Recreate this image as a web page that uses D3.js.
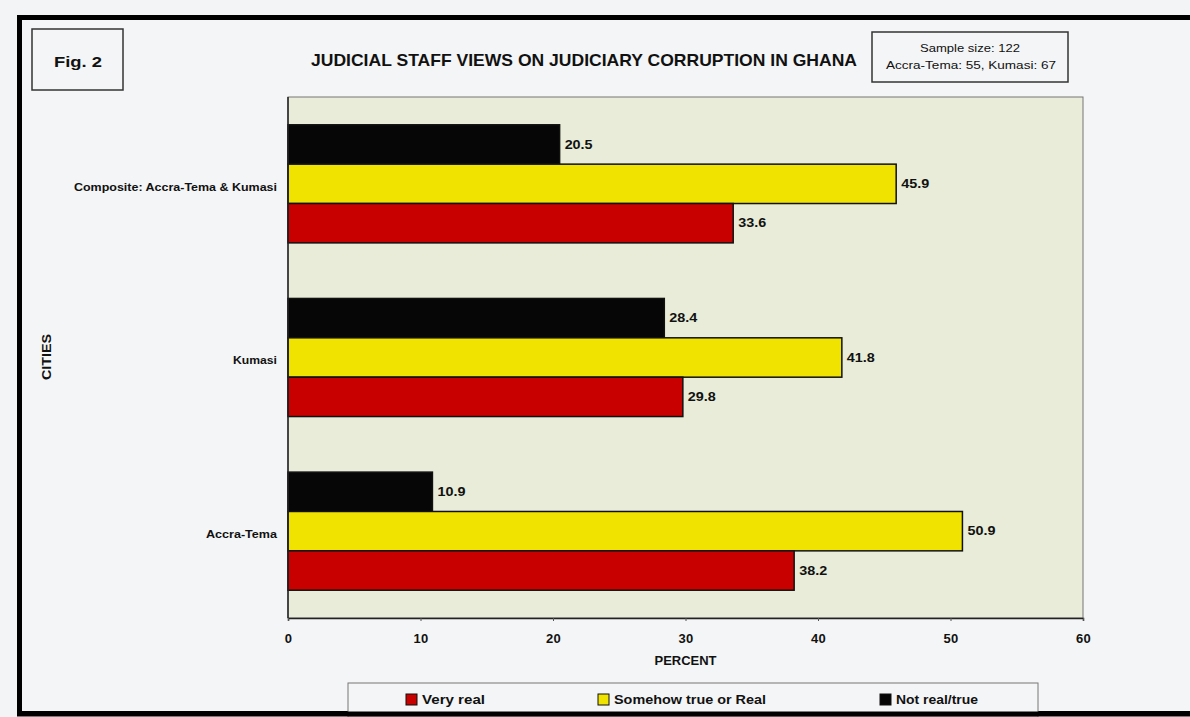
<!DOCTYPE html>
<html>
<head>
<meta charset="utf-8">
<script src="https://cdn.jsdelivr.net/npm/d3@7/dist/d3.min.js"></script>
<style>
  html, body { margin: 0; padding: 0; background: #f3f4f5; }
  svg { display: block; }
  text { font-family: "Liberation Sans", Arial, sans-serif; fill: #111; }
</style>
</head>
<body>
<svg id="chart" width="1190" height="717"></svg>
<script>
// Categories, top to bottom
const cities = ["Composite: Accra-Tema & Kumasi", "Kumasi", "Accra-Tema"];
// Series (drawn top to bottom within each city group)
const seriesNames = ["Not real/true", "Somehow true or Real", "Very real"];
const notRealTrue   = [20.5, 28.4, 10.9];
const somehowTrue   = [45.9, 41.8, 50.9];
const veryReal      = [33.6, 29.8, 38.2];
const seriesColors  = ["#060606", "#f1e300", "#c90000"];
// Axis ticks
const xTicks = [0, 10, 20, 30, 40, 50, 60];
// Legend order
const legendOrder = ["Very real", "Somehow true or Real", "Not real/true"];

const seriesValues = [notRealTrue, somehowTrue, veryReal];

// Rendered widths of the wider labels
const cityLabelWidth = { "Composite: Accra-Tema & Kumasi": 203, "Kumasi": 44, "Accra-Tema": 71 };
const legendLabelWidth = { "Very real": 63, "Somehow true or Real": 152, "Not real/true": 82 };

const svg = d3.select("#chart");

// Outer frame
svg.append("rect")
  .attr("x", 19.5).attr("y", 17.5)
  .attr("width", 1200).attr("height", 696)
  .attr("fill", "#f4f5f6")
  .attr("stroke", "#000").attr("stroke-width", 5);

const plot = { left: 288, right: 1083, top: 97, bottom: 618 };

// Plot background
svg.append("rect")
  .attr("x", plot.left).attr("y", plot.top)
  .attr("width", plot.right - plot.left).attr("height", plot.bottom - plot.top)
  .attr("fill", "#e8ecd8")
  .attr("stroke", "#777").attr("stroke-width", 1);

const x = d3.scaleLinear().domain([0, 60]).range([plot.left, plot.right]);
const y = d3.scaleBand().domain(cities)
  .range([plot.top, plot.bottom])
  .paddingInner(0.32).paddingOuter(0.16);
const ySub = d3.scaleBand().domain(seriesNames).range([0, y.bandwidth()]);

// Bars and value labels
seriesNames.forEach((name, si) => {
  const rows = cities.map((c, i) => ({ city: c, value: seriesValues[si][i] }));
  const g = svg.append("g");
  g.selectAll("rect")
    .data(rows)
    .join("rect")
    .attr("x", x(0))
    .attr("y", d => y(d.city) + ySub(name))
    .attr("width", d => x(d.value) - x(0))
    .attr("height", ySub.bandwidth())
    .attr("fill", seriesColors[si])
    .attr("stroke", "#111").attr("stroke-width", 1.5);
  g.selectAll("text")
    .data(rows)
    .join("text")
    .attr("x", d => x(d.value) + 5)
    .attr("y", d => y(d.city) + ySub(name) + ySub.bandwidth() / 2)
    .attr("dy", "0.35em")
    .attr("font-size", 12)
    .attr("font-weight", "bold")
    .attr("textLength", 28)
    .attr("lengthAdjust", "spacingAndGlyphs")
    .text(d => d.value.toFixed(1));
});

// Left axis line
svg.append("line")
  .attr("x1", plot.left).attr("x2", plot.left)
  .attr("y1", plot.top).attr("y2", plot.bottom)
  .attr("stroke", "#222").attr("stroke-width", 1.5);

// Category labels
svg.append("g").selectAll("text")
  .data(cities).join("text")
  .attr("x", 277)
  .attr("y", d => y(d) + y.bandwidth() / 2 + 3)
  .attr("dy", "0.35em")
  .attr("text-anchor", "end")
  .attr("font-size", 11)
  .attr("font-weight", "bold")
  .attr("textLength", d => cityLabelWidth[d])
  .attr("lengthAdjust", "spacingAndGlyphs")
  .text(d => d);

// Bottom axis
const xAxis = d3.axisBottom(x).tickValues(xTicks).tickSize(3).tickPadding(13);
const ax = svg.append("g")
  .attr("transform", `translate(0,${plot.bottom})`)
  .call(xAxis);
ax.select(".domain").attr("stroke", "#222").attr("stroke-width", 1.5);
ax.selectAll(".tick line").attr("stroke", "#555");
ax.selectAll(".tick text")
  .attr("font-size", 13)
  .attr("font-weight", "bold")
  .attr("letter-spacing", 0.3)
  .attr("fill", "#111")
  .style("font-family", "'Liberation Sans', Arial, sans-serif");

// Axis titles
svg.append("text")
  .attr("x", (plot.left + plot.right) / 2)
  .attr("y", 665)
  .attr("text-anchor", "middle")
  .attr("font-size", 12)
  .attr("font-weight", "bold")
  .attr("textLength", 62)
  .attr("lengthAdjust", "spacingAndGlyphs")
  .text("PERCENT");

svg.append("text")
  .attr("transform", "translate(51,357) rotate(-90)")
  .attr("text-anchor", "middle")
  .attr("font-size", 12)
  .attr("font-weight", "bold")
  .attr("textLength", 46)
  .attr("lengthAdjust", "spacingAndGlyphs")
  .text("CITIES");

// Title
svg.append("text")
  .attr("x", 584)
  .attr("y", 66)
  .attr("text-anchor", "middle")
  .attr("font-size", 17)
  .attr("font-weight", "bold")
  .attr("textLength", 546)
  .attr("lengthAdjust", "spacingAndGlyphs")
  .text("JUDICIAL STAFF VIEWS ON JUDICIARY CORRUPTION IN GHANA");

// Figure number box
svg.append("rect")
  .attr("x", 32).attr("y", 29).attr("width", 91).attr("height", 61)
  .attr("fill", "#f4f5f6").attr("stroke", "#333").attr("stroke-width", 1.5);
svg.append("text")
  .attr("x", 78).attr("y", 67)
  .attr("text-anchor", "middle")
  .attr("font-size", 15)
  .attr("font-weight", "bold")
  .attr("textLength", 48)
  .attr("lengthAdjust", "spacingAndGlyphs")
  .text("Fig. 2");

// Sample size box
svg.append("rect")
  .attr("x", 872).attr("y", 32).attr("width", 196).attr("height", 50)
  .attr("fill", "#f4f5f6").attr("stroke", "#333").attr("stroke-width", 1.5);
svg.append("text")
  .attr("x", 970).attr("y", 52)
  .attr("text-anchor", "middle")
  .attr("font-size", 11)
  .attr("textLength", 100)
  .attr("lengthAdjust", "spacingAndGlyphs")
  .text("Sample size: 122");
svg.append("text")
  .attr("x", 971).attr("y", 69)
  .attr("text-anchor", "middle")
  .attr("font-size", 11)
  .attr("textLength", 170)
  .attr("lengthAdjust", "spacingAndGlyphs")
  .text("Accra-Tema: 55, Kumasi: 67");

// Legend
const legendX = [406, 598, 880];
const lg = svg.append("g");
lg.append("rect")
  .attr("x", 348).attr("y", 683).attr("width", 690).attr("height", 34)
  .attr("fill", "#f4f5f6").attr("stroke", "#777").attr("stroke-width", 1);
legendOrder.forEach((name, i) => {
  const si = seriesNames.indexOf(name);
  lg.append("rect")
    .attr("x", legendX[i]).attr("y", 694)
    .attr("width", 11).attr("height", 11)
    .attr("fill", seriesColors[si])
    .attr("stroke", "#111").attr("stroke-width", 1);
  lg.append("text")
    .attr("x", legendX[i] + 16).attr("y", 700)
    .attr("dy", "0.35em")
    .attr("font-size", 12)
    .attr("font-weight", "bold")
    .attr("textLength", legendLabelWidth[name])
    .attr("lengthAdjust", "spacingAndGlyphs")
    .text(name);
});

// Frame bottom edge drawn over the legend
svg.append("line")
  .attr("x1", 17).attr("x2", 1190)
  .attr("y1", 714).attr("y2", 714)
  .attr("stroke", "#000").attr("stroke-width", 5);
</script>
</body>
</html>
